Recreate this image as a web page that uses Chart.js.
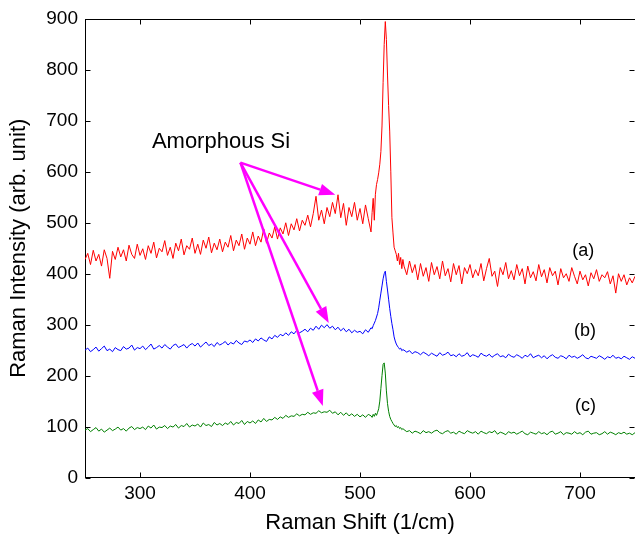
<!DOCTYPE html>
<html><head><meta charset="utf-8">
<script src="https://cdn.jsdelivr.net/npm/chart.js@4.4.1/dist/chart.umd.min.js"></script>
<style>html,body{margin:0;padding:0;background:#fff}canvas{display:block}</style>
</head><body>
<canvas id="c" width="635" height="537"></canvas>
<script>
// Raman shift (1/cm)
const shift = [
250,252.5,255,257.5,260,262.5,265,267.5,270,272.5,
275,277.5,280,282.5,285,287.5,290,292.5,295,297.5,
300,302.5,305,307.5,310,312.5,315,317.5,320,322.5,
325,327.5,330,332.5,335,337.5,340,342.5,345,347.5,
350,352.5,355,357.5,360,362.5,365,367.5,370,372.5,
375,377.5,380,382.5,385,387.5,390,392.5,395,397.5,
400,402.5,405,407.5,410,412.5,415,417.5,420,422.5,
425,427.5,430,432.5,435,437.5,440,442.5,445,447.5,
450,452.5,455,457.5,460,462.5,465,467.5,470,472.5,
475,477.5,480,482.5,485,487.5,490,492.5,495,497.5,
500,502.5,505,507.5,510,
511,512,513,514,515,516,517,518,519,520,
521,522,523,524,525,526,527,528,529,530,
531,532,533,534,535,536,537,538,539,
540,542.5,545,547.5,550,552.5,555,557.5,560,562.5,
565,567.5,570,572.5,575,577.5,580,582.5,585,587.5,
590,592.5,595,597.5,600,602.5,605,607.5,610,612.5,
615,617.5,620,622.5,625,627.5,630,632.5,635,637.5,
640,642.5,645,647.5,650,652.5,655,657.5,660,662.5,
665,667.5,670,672.5,675,677.5,680,682.5,685,687.5,
690,692.5,695,697.5,700,702.5,705,707.5,710,712.5,
715,717.5,720,722.5,725,727.5,730,732.5,735,737.5,
740,742.5,745,747.5,750
];
// Spectrum (a) - red
const intensityA = [
428,440,418,446,425,438,415,447,430,391,
444,428,452,433,447,425,456,438,430,458,
436,449,428,455,440,462,431,450,443,465,
436,452,430,460,445,468,437,455,448,470,
440,458,438,466,450,472,441,460,447,468,
443,462,452,475,445,466,455,478,448,470,
458,482,455,474,462,488,460,480,470,492,
468,490,478,500,475,498,486,508,484,505,
495,515,492,518,552,505,525,498,530,512,
540,518,555,510,538,495,530,512,540,505,
528,498,535,508,482,
520,548,505,556,575,585,598,615,640,690,
775,850,895,860,790,730,680,600,510,480,
452,445,438,425,440,418,432,410,428,
415,398,425,402,418,388,420,395,412,385,
422,398,414,390,425,396,410,384,420,398,
416,380,412,400,418,392,408,396,420,386,
410,430,395,405,375,412,398,422,390,406,
388,418,396,410,380,415,392,404,386,418,
394,408,382,412,396,405,378,410,392,400,
385,412,395,380,405,388,398,376,402,390,
408,385,398,392,404,380,396,362,400,385,
398,378,392,382,395
];
// Spectrum (b) - blue
const intensityB = [
250,254,247,251,256,248,253,258,249,252,
247,255,251,249,257,252,254,260,250,255,
253,258,251,256,262,252,255,259,254,261,
256,252,259,262,255,258,261,254,260,263,
258,264,256,261,266,259,262,257,265,260,
263,267,260,265,262,269,264,261,268,266,
270,265,272,268,274,270,267,276,272,279,
275,281,278,284,279,286,282,289,284,287,
291,286,293,289,297,291,299,294,300,293,
297,290,295,288,293,286,291,284,289,285,
287,282,290,285,294,
292,298,303,308,315,322,333,348,362,376,
390,400,405,385,368,350,332,316,302,290,
276,268,262,258,255,252,254,249,251,
250,246,249,243,247,245,241,246,243,239,
244,241,238,245,240,242,246,239,241,237,
243,238,240,245,237,241,239,236,244,240,
238,242,236,240,243,237,239,235,242,238,
236,241,238,234,240,237,243,235,238,240,
235,239,233,238,241,236,234,239,237,233,
240,236,238,234,237,241,235,233,238,236,
234,239,236,232,237,235,240,234,236,233,
238,235,232,237,234
];
// Spectrum (c) - green
const intensityC = [
93,96,90,94,98,91,95,89,93,97,
92,95,99,93,96,91,97,100,94,98,
96,99,94,101,97,103,95,99,98,102,
96,101,99,104,97,102,100,106,99,103,
101,105,99,107,102,104,100,108,103,106,
102,107,104,110,103,108,106,112,104,110,
107,111,106,113,109,116,110,114,113,118,
114,119,116,122,118,121,120,125,121,124,
123,128,124,127,126,131,127,129,128,132,
126,129,123,128,122,127,121,125,120,124,
119,123,118,124,121,
118,124,120,126,122,128,135,150,175,200,
222,225,205,170,145,130,120,114,110,106,
103,100,102,98,100,96,98,94,96,
94,90,92,87,91,89,86,92,88,90,
87,91,93,88,86,90,92,87,89,85,
91,88,86,92,89,87,90,85,91,88,
86,90,88,92,85,89,87,84,90,87,
89,85,88,91,86,84,89,87,85,90,
86,88,84,89,91,85,87,90,84,88,
87,85,90,86,88,84,89,91,85,87,
88,84,86,90,85,89,87,84,88,86,
89,85,87,84,88
];
const xTicks = [300,400,500,600,700];
const yTicks = [0,100,200,300,400,500,600,700,800,900];
const seriesLabels = ['(a)','(b)','(c)'];
const noteText = 'Amorphous Si';

// annotation anchors in data units
const labelAnchors = [[703,445],[704.6,288],[705,140.5]];
const noteAnchor = [310.8,659];
const arrowFrom = [391.3,618];
const arrowTips = [[477.5,555],[471.6,303.5],[466.2,140.5]];

const FONT = "'Liberation Sans', Arial, Helvetica, sans-serif";
const pts = ys => shift.map((x,i)=>({x:x, y:ys[i]}));

const overlay = {
  id:'overlay',
  afterDraw(chart){
    const ctx = chart.ctx, a = chart.chartArea, xs = chart.scales.x, ys = chart.scales.y;
    ctx.save();
    ctx.strokeStyle = '#000'; ctx.lineWidth = 1;
    const T = Math.round(a.top)+0.5, B = Math.round(a.bottom)-0.5, L = Math.round(a.left)+0.5, R = Math.round(a.right)-0.5;
    ctx.beginPath(); ctx.moveTo(L,T); ctx.lineTo(R+1,T); ctx.stroke();
    ctx.beginPath();
    xTicks.forEach(v=>{ const p = Math.round(xs.getPixelForValue(v))+0.5;
      ctx.moveTo(p,B); ctx.lineTo(p,B-5); ctx.moveTo(p,T); ctx.lineTo(p,T+5); });
    yTicks.forEach(v=>{ const p = Math.round(ys.getPixelForValue(v))+0.5;
      ctx.moveTo(L,p); ctx.lineTo(L+5,p); ctx.moveTo(R,p); ctx.lineTo(R-5,p); });
    ctx.stroke();

    // series labels
    ctx.fillStyle = '#000';
    ctx.font = '18px ' + FONT; ctx.textAlign='center'; ctx.textBaseline='middle';
    seriesLabels.forEach((t,i)=>{ ctx.fillText(t, xs.getPixelForValue(labelAnchors[i][0]), ys.getPixelForValue(labelAnchors[i][1])); });
    ctx.font = '22px ' + FONT; ctx.textAlign='left';
    ctx.fillText(noteText, xs.getPixelForValue(noteAnchor[0]), ys.getPixelForValue(noteAnchor[1]));

    // arrows
    const ox = xs.getPixelForValue(arrowFrom[0]), oy = ys.getPixelForValue(arrowFrom[1]);
    ctx.strokeStyle = '#ff00ff'; ctx.fillStyle = '#ff00ff'; ctx.lineWidth = 2.5;
    arrowTips.forEach(t=>{
      const tx = xs.getPixelForValue(t[0]), ty = ys.getPixelForValue(t[1]);
      const ang = Math.atan2(ty-oy, tx-ox), hl = 16, hw = 6;
      const bx = tx - hl*Math.cos(ang), by = ty - hl*Math.sin(ang);
      ctx.beginPath(); ctx.moveTo(ox,oy); ctx.lineTo(bx,by); ctx.stroke();
      ctx.beginPath(); ctx.moveTo(tx,ty);
      ctx.lineTo(bx + hw*Math.sin(ang), by - hw*Math.cos(ang));
      ctx.lineTo(bx - hw*Math.sin(ang), by + hw*Math.cos(ang));
      ctx.closePath(); ctx.fill();
    });
    ctx.restore();
  }
};

const mk = (data,color)=>({data:pts(data), borderColor:color, borderWidth:1, pointRadius:0, fill:false, tension:0});

new Chart(document.getElementById('c'), {
  type:'line',
  data:{ datasets:[ mk(intensityA,'#ff0000'), mk(intensityB,'#0000ff'), mk(intensityC,'#008000') ] },
  options:{
    responsive:false, animation:false, devicePixelRatio:1,
    layout:{ padding:{ top:19, right:-3, left:0, bottom:0 } },
    plugins:{ legend:{display:false}, tooltip:{enabled:false} },
    scales:{
      x:{ type:'linear', min:250, max:750,
        afterBuildTicks: s=>{ s.ticks = xTicks.map(v=>({value:v})); },
        afterFit: s=>{ s.height = 59.5; },
        grid:{ display:true, drawOnChartArea:false, drawTicks:false },
        border:{ display:true, color:'#000', width:1 },
        ticks:{ color:'#000', font:{ family:FONT, size:19 }, padding:5, maxRotation:0, autoSkip:false },
        title:{ display:true, text:'Raman Shift (1/cm)', color:'#000', font:{ family:FONT, size:22 }, padding:{top:0,bottom:1} }
      },
      y:{ type:'linear', min:0, max:900,
        afterBuildTicks: s=>{ s.ticks = yTicks.map(v=>({value:v})); },
        afterFit: s=>{ s.width = 85; },
        grid:{ display:true, drawOnChartArea:false, drawTicks:false },
        border:{ display:true, color:'#000', width:1 },
        ticks:{ color:'#000', font:{ family:FONT, size:19 }, padding:7, autoSkip:false },
        title:{ display:true, text:'Raman Intensity (arb. unit)', color:'#000', font:{ family:FONT, size:22 }, padding:{top:6,bottom:0} }
      }
    }
  },
  plugins:[overlay]
});
</script>
</body></html>
